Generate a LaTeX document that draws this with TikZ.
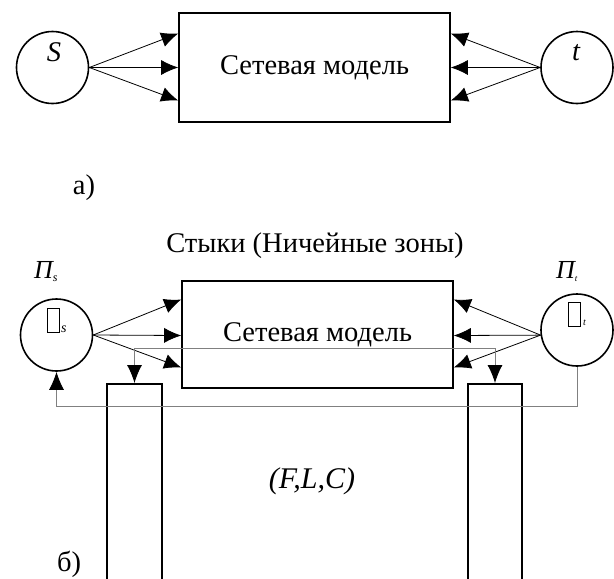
\documentclass[tikz,border=0pt]{standalone}
\usepackage{fontspec}
\setmainfont{Liberation Serif}
\usetikzlibrary{arrows.meta,calc}
\begin{document}
\begin{tikzpicture}[x=1pt,y=-1pt,
 circ/.style={circle, draw, line width=1.6pt, minimum size=72pt, inner sep=0pt},
 mbox/.style={draw, line width=1.6pt, inner sep=0pt, font=\fontsize{28.5}{32}\selectfont},
 arr/.style={line width=0.8pt, -{Latex[length=17pt,width=15pt]}},
 gline/.style={draw=gray, line width=0.9pt},
 garr/.style={gline, -{Latex[length=18pt,width=15pt,black]}},
 txt/.style={font=\fontsize{28.5}{32}\selectfont, inner sep=0pt},
 itxt/.style={font=\fontsize{28.5}{32}\selectfont\itshape, inner sep=0pt},
 glyphbox/.style={draw, line width=0.9pt, minimum width=12pt, minimum height=24pt, inner sep=0pt},
 ]
\useasboundingbox (0,0) rectangle (614,579);
\clip (0,0) rectangle (614,579);

% ---------- a) ----------
\node[circ] (S) at (52.5,67.5) {};
\node[circ] (T) at (577,67.5) {};
\node[itxt] (Slab) at (54,52) {S};
\node[itxt] (Tlab) at (576,53) {t};
\node[mbox, minimum width=271pt, minimum height=109pt] (box1) at (314.5,67.5) {Сетевая модель};
\coordinate (l1) at ($(box1.west)+(0,-34)$);
\coordinate (l2) at (box1.west);
\coordinate (l3) at ($(box1.west)+(0,33)$);
\coordinate (r1) at ($(box1.east)+(0,-34)$);
\coordinate (r2) at (box1.east);
\coordinate (r3) at ($(box1.east)+(0,33)$);
\foreach \c in {l1,l2,l3} \draw[arr] (S.east) -- (\c);
\foreach \c in {r1,r2,r3} \draw[arr] (T.west) -- (\c);
\node[txt] (la) at (84,188) {а)};

% ---------- б) ----------
\node[txt] (joints) at (315,246) {Стыки (Ничейные зоны)};
\node[inner sep=0pt, anchor=base west, font=\fontsize{26}{30}\selectfont\itshape] (PsL) at (34,278) {Π\raisebox{-3pt}{\fontsize{12}{12}\selectfont s}};
\node[inner sep=0pt, anchor=base west, font=\fontsize{26}{30}\selectfont\itshape] (PtL) at (556,278) {Π\raisebox{-3pt}{\fontsize{9}{9}\selectfont t}};

\node[circ] (Ps) at (56.5,335) {};
\node[circ] (Pt) at (577,330) {};
\node[glyphbox] (ms) at (53.5,320) {};
\node[inner sep=0pt, anchor=base west, font=\fontsize{14}{14}\selectfont\itshape] (msub) at ($(ms.south east)+(1,0)$) {s};
\node[glyphbox] (mt) at (574.5,314.5) {};
\node[inner sep=0pt, anchor=base west, font=\fontsize{10}{10}\selectfont\itshape] (mtsub) at ($(mt.south east)+(2,-1)$) {t};

\node[mbox, minimum width=271pt, minimum height=107pt] (box2) at (317.5,334.5) {\raisebox{2pt}{Сетевая модель}};
\coordinate (bl1) at ($(box2.west)+(0,-35)$);
\coordinate (bl2) at ($(box2.west)+(0,1)$);
\coordinate (bl3) at ($(box2.west)+(0,33)$);
\coordinate (br1) at ($(box2.east)+(0,-35)$);
\coordinate (br2) at ($(box2.east)+(0,1)$);
\coordinate (br3) at ($(box2.east)+(0,33)$);
\foreach \c in {bl1,bl2,bl3} \draw[arr] (Ps.east) -- (\c);
\foreach \c in {br1,br2,br3} \draw[arr] (Pt.188) -- (\c);

\node[draw, line width=1.6pt, minimum width=55pt, minimum height=230pt, inner sep=0pt, anchor=north] (lrect) at (134.5,383) {};
\node[draw, line width=1.6pt, minimum width=54pt, minimum height=230pt, inner sep=0pt, anchor=north] (rrect) at (495,383) {};

\coordinate (gy) at (0,348);
\draw[gline] (lrect.north |- gy) -- (rrect.north |- gy);
\draw[garr] (lrect.north |- gy) -- (lrect.north);
\draw[garr] (rrect.north |- gy) -- (rrect.north);

\coordinate (fb) at (0,406);
\draw[garr] (Pt.south) -- (Pt.south |- fb) -- (Ps.south |- fb) -- (Ps.south);

\node[font=\fontsize{30}{34}\selectfont\itshape, inner sep=0pt] (flc) at (312,481) {(F,L,C)};
\node[txt] (lb) at (69,564) {б)};
\end{tikzpicture}
\end{document}
